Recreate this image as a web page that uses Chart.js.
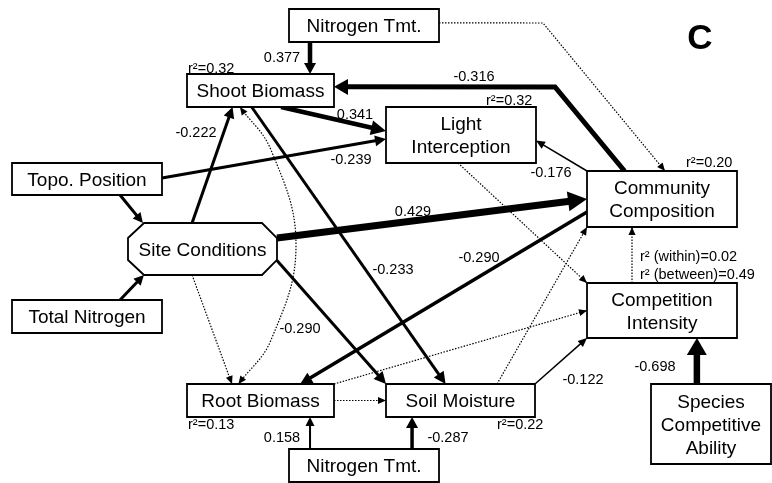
<!DOCTYPE html>
<html>
<head>
<meta charset="utf-8">
<script src="https://cdn.jsdelivr.net/npm/chart.js@4"></script>
<style>
  body { margin: 0; background: #fff; }
  #wrap { width: 772px; height: 483px; }
</style>
</head>
<body>
<div id="wrap"><canvas id="chart" width="772" height="483"></canvas></div>
<script>
// variables of the path model
const nodeIds = ['nTop', 'shoot', 'light', 'topo', 'site', 'totN', 'comm', 'comp', 'root', 'soil', 'nBot', 'species'];
const nodeLabels = [
  ['Nitrogen Tmt.'], ['Shoot Biomass'], ['Light', 'Interception'], ['Topo. Position'],
  ['Site Conditions'], ['Total Nitrogen'], ['Community', 'Composition'], ['Competition', 'Intensity'],
  ['Root Biomass'], ['Soil Moisture'], ['Nitrogen Tmt.'], ['Species', 'Competitive', 'Ability']
];

// paths (null coefficient = no value printed)
const pathFrom = ['nTop', 'comm', 'shoot', 'topo', 'site', 'shoot', 'comm', 'site', 'comm', 'site', 'topo', 'totN',
  'soil', 'species', 'nBot', 'nBot', 'nTop', 'light', 'comp', 'soil', 'root', 'root', 'site', 'shoot'];
const pathTo = ['shoot', 'shoot', 'light', 'light', 'shoot', 'soil', 'light', 'comm', 'root', 'soil', 'site', 'site',
  'comp', 'comp', 'root', 'soil', 'comm', 'comp', 'comm', 'comm', 'comp', 'soil', 'root', 'root'];
const pathCoef = [0.377, -0.316, 0.341, -0.239, -0.222, -0.233, -0.176, 0.429, -0.290, -0.290, null, null,
  -0.122, -0.698, 0.158, -0.287, null, null, null, null, null, null, null, null];
const pathSig = [true, true, true, true, true, true, true, true, true, true, true, true,
  true, true, true, true, false, false, false, false, false, false, false, false];

// explained variance
const r2Node = ['shoot', 'light', 'comm', 'root', 'soil'];
const r2Value = [0.32, 0.32, 0.20, 0.13, 0.22];
const r2Within = 0.02;
const r2Between = 0.49;

// ---- layout (chart units = pixels) ----
const boxes = {
  nTop: [289, 9, 150, 33], shoot: [187, 74, 147, 33], light: [386, 107, 150, 56],
  topo: [12, 163, 150, 32], site: [128, 223, 149, 52], totN: [12, 300, 150, 33],
  comm: [587, 171, 150, 56], comp: [587, 283, 150, 55], root: [187, 384, 147, 33],
  soil: [386, 384, 149, 33], nBot: [289, 449, 150, 33], species: [651, 384, 120, 80]
};

// a/b = anchor fractions on source/target box, w = line width, head = [length, half width]
const pathGeom = [
  { a: [0.14, 1], b: [0.837, 0], w: 4.5, head: [11, 6], label: [282, 62] },
  { a: [0.25, 0], via: [[555, 87]], b: [1, 0.39], w: 5, head: [14, 8], label: [474, 81] },
  { a: [0.64, 1], b: [0, 0.43], w: 4.5, head: [15, 7.5], label: [355, 119] },
  { a: [1, 0.47], b: [0, 0.57], w: 3, head: [11, 5.5], label: [351, 164] },
  { a: [0.43, 0], b: [0.31, 1], w: 3, head: [11, 5.5], label: [196, 137] },
  { a: [0.44, 1], b: [0.40, 0], w: 3, head: [12, 6], label: [393, 274] },
  { a: [0, 0], b: [1, 0.6], w: 1.5, head: [9, 4], label: [551, 177] },
  { a: [1, 0.29], b: [0, 0.5], w: 7, head: [19, 10], label: [413, 216] },
  { a: [0, 0.73], b: [0.77, 0], w: 3.5, head: [12, 6], label: [479, 262] },
  { a: [1, 0.72], b: [0, 0], w: 3, head: [12, 6], label: [300, 333] },
  { a: [0.72, 1], b: [0.1, 0], w: 3, head: [10, 5] },
  { a: [0.72, 0], b: [0.107, 1], w: 3, head: [10, 5] },
  { a: [1, 0], b: [0, 1], w: 1.5, head: [9, 4], label: [583, 384] },
  { a: [0.38, 0], b: [0.733, 1], w: 6.5, head: [17, 10], label: [655, 371] },
  { a: [0.14, 0], b: [0.837, 1], w: 2, head: [9, 4.5], label: [282, 442] },
  { a: [0.82, 0], b: [0.175, 1], w: 3.5, head: [11, 6], label: [448, 442] },
  { a: [1, 0.42], via: [[543, 23]], b: [0.52, 0], w: 1.2, head: [8, 3.5] },
  { a: [0.48, 1], b: [0, 0], w: 1.2, head: [8, 3.5] },
  { a: [0.3, 0], b: [0.3, 1], w: 1.2, head: [8, 3.5] },
  { a: [0.745, 0], b: [0, 1], w: 1.2, head: [8, 3.5] },
  { a: [1, 0], b: [0, 0.5], w: 1.2, head: [8, 3.5] },
  { a: [1, 0.5], b: [0, 0.5], w: 1.2, head: [8, 3.5] },
  { a: [0.43, 1], b: [0.306, 0], w: 1.2, head: [8, 3.5] },
  { a: [0.36, 1], via: [[271, 150], [296, 245], [271, 340]], b: [0.35, 0], w: 1.2, head: [8, 3.5], curve: true, both: true }
];
const r2Pos = { shoot: [188, 73], light: [486, 105], comm: [686, 167], root: [188, 429], soil: [497, 429] };

const FONT = '"Liberation Sans", Arial, Helvetica, sans-serif';

function anchor(id, f) {
  const b = boxes[id];
  return { x: b[0] + f[0] * b[2], y: b[1] + f[1] * b[3] };
}

const rawPts = [];
const datasets = pathFrom.map((from, i) => {
  const g = pathGeom[i];
  const pts = [anchor(from, g.a)].concat((g.via || []).map(p => ({ x: p[0], y: p[1] })), [anchor(pathTo[i], g.b)]);
  rawPts.push(pts);
  const data = pts.map(p => ({ x: p.x, y: p.y }));
  // pull the shaft back under the arrow head
  const n = data.length, e = data[n - 1], s = data[n - 2];
  const len = Math.hypot(e.x - s.x, e.y - s.y);
  const cut = pathSig[i] ? g.head[0] * 0.6 : 0;
  if (!g.curve && cut > 0) {
    data[n - 1] = { x: e.x - (e.x - s.x) / len * cut, y: e.y - (e.y - s.y) / len * cut };
  }
  return {
    data: data,
    showLine: true,
    borderColor: '#000',
    borderWidth: g.w,
    borderDash: pathSig[i] ? [] : [1.5, 1.5],
    borderCapStyle: 'butt',
    pointRadius: 0,
    tension: g.curve ? 0.4 : 0,
    clip: false
  };
});

const diagram = {
  id: 'diagram',
  afterDatasetsDraw(chart) {
    const ctx = chart.ctx;
    const sx = v => chart.scales.x.getPixelForValue(v);
    const sy = v => chart.scales.y.getPixelForValue(v);
    ctx.save();

    // boxes
    ctx.lineWidth = 1.8;
    ctx.strokeStyle = '#000';
    nodeIds.forEach((id, i) => {
      const b = boxes[id];
      const x0 = sx(b[0]), y0 = sy(b[1]), x1 = sx(b[0] + b[2]), y1 = sy(b[1] + b[3]);
      ctx.beginPath();
      if (id === 'site') {
        const c = 15;
        ctx.moveTo(x0 + c + 1, y0); ctx.lineTo(x1 - c, y0); ctx.lineTo(x1, y0 + c);
        ctx.lineTo(x1, y1 - c); ctx.lineTo(x1 - c, y1); ctx.lineTo(x0 + c + 1, y1);
        ctx.lineTo(x0, y1 - c); ctx.lineTo(x0, y0 + c); ctx.closePath();
      } else {
        ctx.rect(x0, y0, x1 - x0, y1 - y0);
      }
      ctx.fillStyle = '#fff';
      ctx.fill();
      ctx.stroke();
      const lines = nodeLabels[i];
      ctx.fillStyle = '#000';
      ctx.font = '19px ' + FONT;
      ctx.textAlign = 'center';
      ctx.textBaseline = 'alphabetic';
      const cy = (y0 + y1) / 2;
      lines.forEach((t, k) => {
        ctx.fillText(t, (x0 + x1) / 2, cy + (k - (lines.length - 1) / 2) * 23 + 6.8);
      });
    });

    // arrow heads
    const head = (tip, from, h) => {
      const tx = sx(tip.x), ty = sy(tip.y);
      const dx = tx - sx(from.x), dy = ty - sy(from.y);
      const l = Math.hypot(dx, dy), ux = dx / l, uy = dy / l;
      const bx = tx - ux * h[0], by = ty - uy * h[0];
      ctx.beginPath();
      ctx.moveTo(tx, ty);
      ctx.lineTo(bx - uy * h[1], by + ux * h[1]);
      ctx.lineTo(bx + uy * h[1], by - ux * h[1]);
      ctx.closePath();
      ctx.fill();
    };
    ctx.fillStyle = '#000';
    rawPts.forEach((pts, i) => {
      const g = pathGeom[i], n = pts.length;
      head(pts[n - 1], pts[n - 2], g.head);
      if (g.both) head(pts[0], pts[1], g.head);
    });

    // coefficients
    ctx.font = '14.5px ' + FONT;
    ctx.textAlign = 'center';
    pathCoef.forEach((v, i) => {
      const g = pathGeom[i];
      if (v === null || !g.label) return;
      ctx.fillText(v.toFixed(3), sx(g.label[0]), sy(g.label[1]));
    });

    // r-squared
    ctx.textAlign = 'left';
    r2Node.forEach((id, i) => {
      const p = r2Pos[id];
      ctx.fillText('r\u00b2=' + r2Value[i].toFixed(2), sx(p[0]), sy(p[1]));
    });
    ctx.fillText('r\u00b2 (within)=' + r2Within.toFixed(2), sx(640), sy(261));
    ctx.fillText('r\u00b2 (between)=' + r2Between.toFixed(2), sx(640), sy(279));

    // panel letter
    ctx.font = 'bold 35px ' + FONT;
    ctx.textAlign = 'center';
    ctx.fillText('C', sx(700), sy(49));
    ctx.restore();
  }
};

new Chart(document.getElementById('chart'), {
  type: 'scatter',
  data: { datasets: datasets },
  options: {
    responsive: false,
    devicePixelRatio: 1,
    animation: false,
    layout: { padding: 0 },
    plugins: { legend: { display: false }, tooltip: { enabled: false } },
    scales: {
      x: { type: 'linear', min: 0, max: 772, display: false },
      y: { type: 'linear', min: 0, max: 483, reverse: true, display: false }
    }
  },
  plugins: [diagram]
});
</script>
</body>
</html>
